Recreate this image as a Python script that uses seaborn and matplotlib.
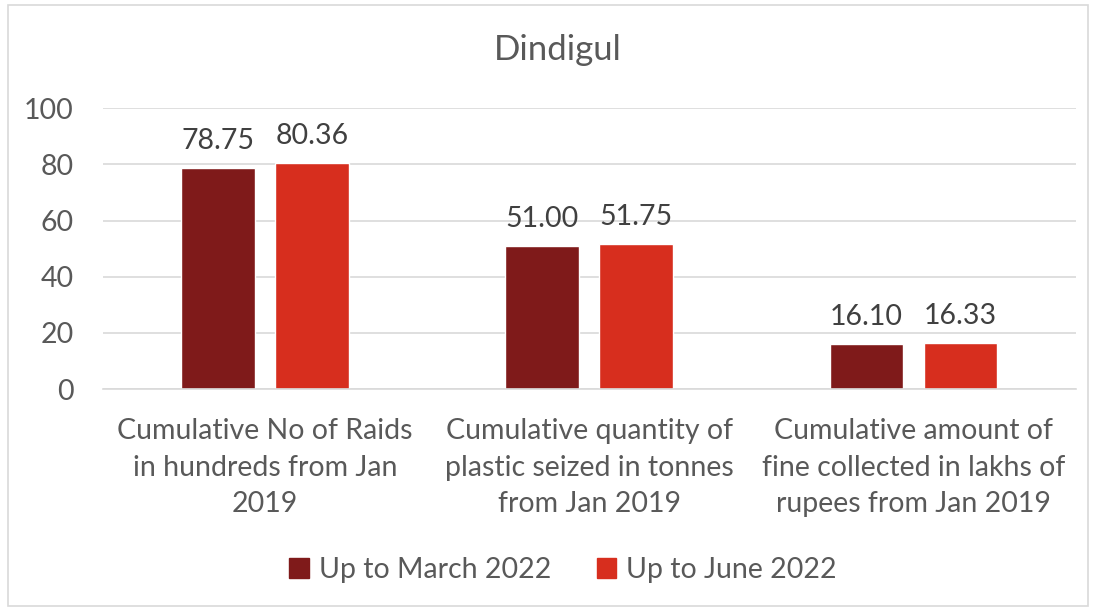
import pandas as pd
import matplotlib.pyplot as plt
import matplotlib.patches as mpatches
import seaborn as sns

# Data
categories = [
    "Cumulative No of Raids\nin hundreds from Jan\n2019",
    "Cumulative quantity of\nplastic seized in tonnes\nfrom Jan 2019",
    "Cumulative amount of\nfine collected in lakhs of\nrupees from Jan 2019",
]
series_names = ["Up to March 2022", "Up to June 2022"]
march_2022 = [78.75, 51.00, 16.10]
june_2022 = [80.36, 51.75, 16.33]
colors = ["#7F1A1A", "#D72E1E"]

df = pd.DataFrame({
    "Category": categories * 2,
    "Period": [series_names[0]] * 3 + [series_names[1]] * 3,
    "Value": march_2022 + june_2022,
})

sns.set_style("white")
plt.rcParams["font.family"] = ["Lato", "DejaVu Sans"]
text_color = "#595959"

fig = plt.figure(figsize=(10.93, 6.11), dpi=100)
ax = fig.add_axes([0.094, 0.363, 0.89, 0.46])

sns.barplot(data=df, x="Category", y="Value", hue="Period", palette=colors,
            saturation=1, width=0.58, gap=0.22, ax=ax, legend=False)

for cont in ax.containers:
    ax.bar_label(cont, fmt="%.2f", padding=10, fontsize=20.5, color="#404040")

ax.set_ylim(0, 100)
ax.set_yticks(range(0, 101, 20))
ax.set_xlim(-0.5, 2.5)
ax.yaxis.grid(True, color="#D9D9D9", linewidth=1.2)
ax.set_axisbelow(True)
for s in ["top", "right", "left"]:
    ax.spines[s].set_visible(False)
ax.spines["bottom"].set_color("#D9D9D9")
ax.spines["bottom"].set_linewidth(1.2)
ax.tick_params(axis="both", length=0, labelsize=20.5, colors=text_color)
ax.tick_params(axis="x", pad=21)
ax.tick_params(axis="y", pad=21)
for lbl in ax.get_xticklabels():
    lbl.set_linespacing(1.5)
ax.set_xlabel("")
ax.set_ylabel("")

fig.text(0.51, 0.918, "Dindigul", ha="center", va="center", fontsize=25, color=text_color)

handles = [mpatches.Patch(color=c, label=n) for c, n in zip(colors, series_names)]
fig.legend(handles=handles, loc="center", bbox_to_anchor=(0.515, 0.067), ncol=2,
           frameon=False, fontsize=20.5, labelcolor=text_color, handlelength=0.7,
           handleheight=0.7, handletextpad=0.35, columnspacing=1.6)

fig.patches.append(mpatches.Rectangle((0.007, 0.008), 0.988, 0.983, transform=fig.transFigure,
                                      fill=False, edgecolor="#D9D9D9", linewidth=1.2))

fig.savefig("out.png", dpi=100)
